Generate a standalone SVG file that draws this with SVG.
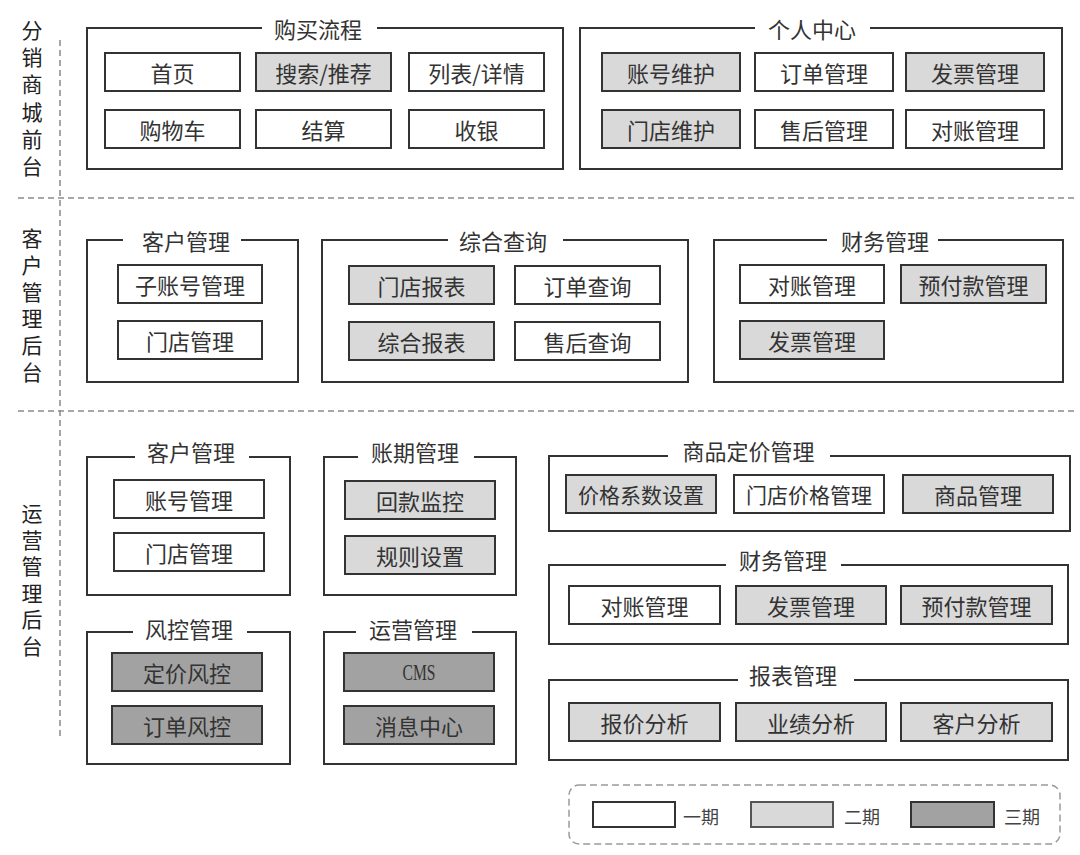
<svg xmlns="http://www.w3.org/2000/svg" width="1080" height="855" viewBox="0 0 1080 855">
<style>
.frame{fill:none;stroke:#333;stroke-width:2}
.gap{fill:#fff}
.b{stroke:#333;stroke-width:2}
.p1{fill:#fff}.p2{fill:#d9d9d9}.p3{fill:#a2a2a2}
text{font-family:"Noto Sans CJK SC","Noto Sans",sans-serif;fill:#333;text-anchor:middle;dominant-baseline:central;font-size:22px}
.s{font-size:21px}
.side{writing-mode:vertical-rl;text-anchor:start;fill:#222;font-size:21px}
.cms{font-family:"Liberation Serif",serif;font-size:23px}
.sep{stroke:#8a8a8a;stroke-width:1.5;stroke-dasharray:6 4;fill:none}
.leg{stroke:#9a9a9a;stroke-width:1.5;stroke-dasharray:7 4;fill:none}
.lt{font-size:18px;fill:#444}
</style>
<rect width="1080" height="855" fill="#fff"/>
<g id="separators">
<line class="sep" x1="18" y1="198" x2="1076" y2="198"/>
<line class="sep" x1="18" y1="411" x2="1076" y2="411"/>
<line class="sep" x1="60" y1="40" x2="60" y2="740"/>
</g>
<g id="side-labels">
<text class="side" x="32" y="19.5" letter-spacing="6.2">分销商城前台</text>
<text class="side" x="32" y="227.5" letter-spacing="5.8">客户管理后台</text>
<text class="side" x="32" y="502.5" letter-spacing="5.6">运营管理后台</text>
</g>
<g id="g-buy">
<rect class="frame" x="87" y="28" width="476" height="141"/>
<rect class="gap" x="262" y="24" width="115" height="8"/>
<text x="318" y="28">购买流程</text>
<rect class="b p1" x="105" y="53" width="135" height="38"/><text x="172.5" y="72">首页</text>
<rect class="b p2" x="256" y="53" width="135" height="38"/><text x="323.5" y="72">搜索/推荐</text>
<rect class="b p1" x="409" y="53" width="135" height="38"/><text x="476.5" y="72">列表/详情</text>
<rect class="b p1" x="105" y="110" width="135" height="38"/><text x="172.5" y="129">购物车</text>
<rect class="b p1" x="256" y="110" width="135" height="38"/><text x="323.5" y="129">结算</text>
<rect class="b p1" x="409" y="110" width="135" height="38"/><text x="476.5" y="129">收银</text>
</g>
<g id="g-personal">
<rect class="frame" x="580" y="28" width="482" height="141"/>
<rect class="gap" x="755" y="24" width="115" height="8"/>
<text x="812" y="28">个人中心</text>
<rect class="b p2" x="602" y="53" width="138" height="38"/><text x="671" y="72">账号维护</text>
<rect class="b p1" x="755" y="53" width="138" height="38"/><text x="824" y="72">订单管理</text>
<rect class="b p2" x="906" y="53" width="138" height="38"/><text x="975" y="72">发票管理</text>
<rect class="b p2" x="602" y="110" width="138" height="38"/><text x="671" y="129">门店维护</text>
<rect class="b p1" x="755" y="110" width="138" height="38"/><text x="824" y="129">售后管理</text>
<rect class="b p1" x="906" y="110" width="138" height="38"/><text x="975" y="129">对账管理</text>
</g>
<g id="g-cust-b">
<rect class="frame" x="87" y="240" width="211" height="142"/>
<rect class="gap" x="123" y="236" width="118" height="8"/>
<text x="186" y="240">客户管理</text>
<rect class="b p1" x="118" y="265" width="144" height="38"/><text x="190" y="284">子账号管理</text>
<rect class="b p1" x="118" y="321" width="144" height="38"/><text x="190" y="340">门店管理</text>
</g>
<g id="g-query">
<rect class="frame" x="322" y="240" width="366" height="142"/>
<rect class="gap" x="448" y="236" width="115" height="8"/>
<text x="503" y="240">综合查询</text>
<rect class="b p2" x="349" y="266" width="145" height="38"/><text x="421.5" y="285">门店报表</text>
<rect class="b p1" x="515" y="266" width="145" height="38"/><text x="587.5" y="285">订单查询</text>
<rect class="b p2" x="349" y="322" width="145" height="38"/><text x="421.5" y="341">综合报表</text>
<rect class="b p1" x="515" y="322" width="145" height="38"/><text x="587.5" y="341">售后查询</text>
</g>
<g id="g-fin-b">
<rect class="frame" x="714" y="240" width="349" height="142"/>
<rect class="gap" x="827" y="236" width="111" height="8"/>
<text x="885" y="240">财务管理</text>
<rect class="b p1" x="740" y="265" width="144" height="38"/><text x="812" y="284">对账管理</text>
<rect class="b p2" x="901" y="265" width="145" height="38"/><text x="973.5" y="284">预付款管理</text>
<rect class="b p2" x="740" y="321" width="144" height="38"/><text x="812" y="340">发票管理</text>
</g>
<g id="g-cust-o">
<rect class="frame" x="87" y="457" width="203" height="138"/>
<rect class="gap" x="135" y="453" width="114" height="8"/>
<text x="191" y="451">客户管理</text>
<rect class="b p1" x="114" y="480" width="150" height="38"/><text x="189" y="499">账号管理</text>
<rect class="b p1" x="114" y="533" width="150" height="38"/><text x="189" y="552">门店管理</text>
</g>
<g id="g-period">
<rect class="frame" x="324" y="457" width="192" height="138"/>
<rect class="gap" x="358" y="453" width="116" height="8"/>
<text x="415" y="451">账期管理</text>
<rect class="b p2" x="345" y="481" width="150" height="38"/><text x="420" y="500">回款监控</text>
<rect class="b p2" x="345" y="536" width="150" height="38"/><text x="420" y="555">规则设置</text>
</g>
<g id="g-risk">
<rect class="frame" x="87" y="632" width="203" height="132"/>
<rect class="gap" x="133" y="628" width="114" height="8"/>
<text x="189" y="628">风控管理</text>
<rect class="b p3" x="112" y="653" width="150" height="38"/><text x="187" y="672">定价风控</text>
<rect class="b p3" x="112" y="706" width="150" height="38"/><text x="187" y="725">订单风控</text>
</g>
<g id="g-ops">
<rect class="frame" x="324" y="632" width="192" height="132"/>
<rect class="gap" x="356" y="628" width="116" height="8"/>
<text x="413" y="628">运营管理</text>
<rect class="b p3" x="344" y="653" width="150" height="38"/><text class="cms" x="419" y="672" textLength="33" lengthAdjust="spacingAndGlyphs">CMS</text>
<rect class="b p3" x="344" y="706" width="150" height="38"/><text x="419" y="725">消息中心</text>
</g>
<g id="g-pricing">
<rect class="frame" x="549" y="456" width="521" height="75"/>
<rect class="gap" x="668" y="452" width="162" height="8"/>
<text x="748.5" y="450">商品定价管理</text>
<rect class="b p2" x="566" y="475" width="150" height="38"/><text class="s" x="641" y="494">价格系数设置</text>
<rect class="b p1" x="734" y="475" width="150" height="38"/><text class="s" x="809" y="494">门店价格管理</text>
<rect class="b p2" x="903" y="475" width="150" height="38"/><text x="978" y="494">商品管理</text>
</g>
<g id="g-fin-o">
<rect class="frame" x="549" y="565" width="519" height="79"/>
<rect class="gap" x="726" y="561" width="115" height="8"/>
<text x="783" y="559">财务管理</text>
<rect class="b p1" x="569" y="586" width="151" height="38"/><text x="644.5" y="605">对账管理</text>
<rect class="b p2" x="736" y="586" width="150" height="38"/><text x="811" y="605">发票管理</text>
<rect class="b p2" x="901" y="586" width="151" height="38"/><text x="976.5" y="605">预付款管理</text>
</g>
<g id="g-report">
<rect class="frame" x="549" y="680" width="519" height="80"/>
<rect class="gap" x="738" y="676" width="116" height="8"/>
<text x="793" y="674">报表管理</text>
<rect class="b p2" x="569" y="703" width="151" height="38"/><text x="644.5" y="722">报价分析</text>
<rect class="b p2" x="736" y="703" width="150" height="38"/><text x="811" y="722">业绩分析</text>
<rect class="b p2" x="901" y="703" width="151" height="38"/><text x="976.5" y="722">客户分析</text>
</g>
<g id="legend">
<rect class="leg" x="569" y="785" width="491" height="59" rx="10"/>
<rect class="b p1" x="593" y="802" width="82" height="25"/><text class="lt" x="701" y="816">一期</text>
<rect class="b p2" x="751" y="802" width="82" height="25" style="stroke:#555"/><text class="lt" x="862" y="816">二期</text>
<rect class="b p3" x="911" y="802" width="83" height="25"/><text class="lt" x="1022" y="816">三期</text>
</g>
</svg>
